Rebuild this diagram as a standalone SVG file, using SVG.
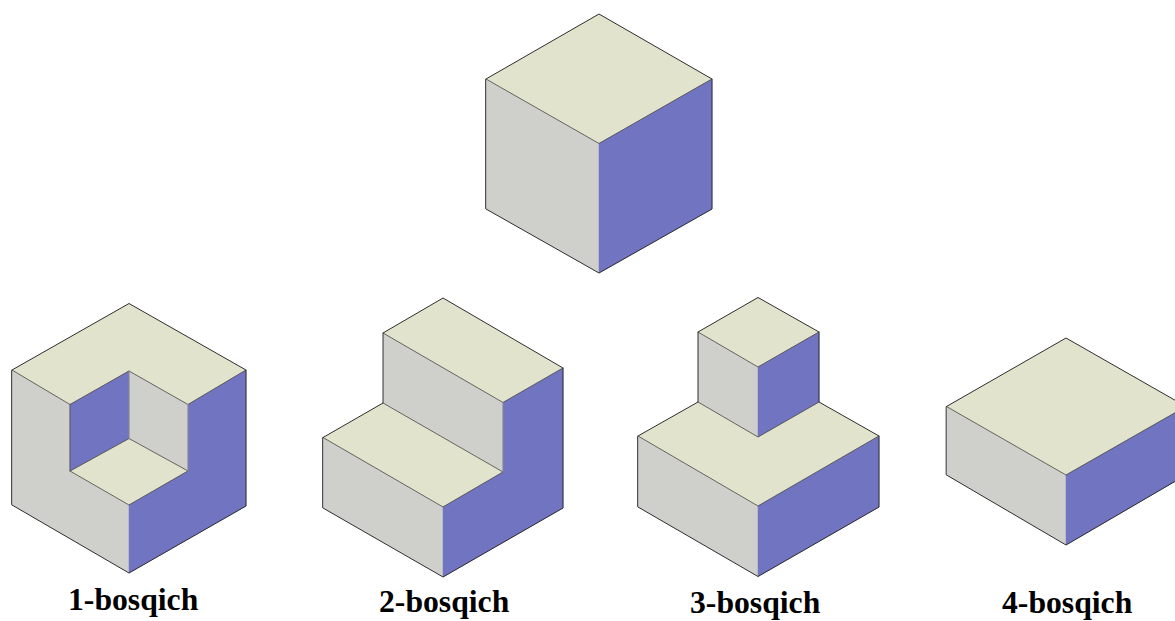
<svg xmlns="http://www.w3.org/2000/svg" width="1175" height="621" viewBox="0 0 1175 621">
<style>
.t{fill:#e2e3cd}.l{fill:#cfd0cb}.r{fill:#7174c1;stroke:#7174c1;stroke-width:.5}
.o{fill:none;stroke:#2e2e2e;stroke-width:1;stroke-linejoin:round;stroke-linecap:round}
.i{fill:none;stroke:#55554f;stroke-width:.9;stroke-linecap:round;stroke-linejoin:round}
.f{fill:none;stroke:#8a8a88;stroke-width:.9;stroke-linecap:round}
text{font-family:"Liberation Serif","Times New Roman",serif;font-weight:bold;font-size:31.7px;fill:#000}
</style>
<rect width="1175" height="621" fill="#fff"/>
<g id="cube">
<polygon class="t" points="599,14 712,79 599,143.5 486,79"/>
<polygon class="l" points="486,79 599,143.5 599,273 486,209"/>
<polygon class="r" points="712,79 712,209 599,273 599,143.5"/>
<path class="i" d="M486,79L599,143.5L712,79"/>
<path class="o" d="M486,79L599,14L712,79V209L599,273L486,209Z"/>
</g>
<g id="step1">
<polygon class="t" points="129,303.5 246,370 188,404.5 129,371 70,404.5 12,370"/>
<polygon class="l" points="12,370 70,404.5 70,471 129,505 129,573 12,505"/>
<polygon class="l" points="129,371 188,404.5 188,471 129,438.5"/>
<polygon class="t" points="129,438.5 188,471 129,505 70,471"/>
<polygon class="r" points="246,370 246,506 129,573 129,505 188,471 188,404.5"/>
<polygon class="r" points="70,404.5 129,371 129,438.5 70,471"/>
<path class="i" d="M12,370L70,404.5L129,371L188,404.5L246,370M70,404.5V471L129,505L188,471L129,438.5L70,471"/>
<path class="f" d="M129,371V438.5M188,404.5V471"/>
<path class="o" d="M12,370L129,303.5L246,370V506L129,573L12,505Z"/>
<text x="68" y="610">1-bosqich</text>
</g>
<g id="step2">
<polygon class="t" points="443,298 563,368 503,402.5 383,333"/>
<polygon class="l" points="383,333 503,402.5 503,472 383,403"/>
<polygon class="t" points="383,403 503,472 443,507 323,437.5"/>
<polygon class="l" points="323,437.5 443,507 443,577 323,508"/>
<polygon class="r" points="563,368 563,508 443,577 443,507 503,472 503,402.5"/>
<path class="i" d="M383,333L503,402.5L563,368M383,403L503,472L443,507L323,437.5"/>
<path class="f" d="M503,402.5V472"/>
<path class="o" d="M323,437.5L383,403V333L443,298L563,368V508L443,577L323,508Z"/>
<text x="379" y="612">2-bosqich</text>
</g>
<g id="step3">
<polygon class="t" points="698,402 758,437 819,402 879,436 758,506 638,436"/>
<polygon class="l" points="638,436 758,506 758,576.5 638,507"/>
<polygon class="r" points="879,436 879,507 758,576.5 758,506"/>
<polygon class="t" points="758,297.5 819,332 758,367 698,332"/>
<polygon class="l" points="698,332 758,367 758,437 698,402"/>
<polygon class="r" points="819,332 819,402 758,437 758,367"/>
<path class="i" d="M638,436L758,506L879,436M698,332L758,367L819,332M698,402L758,437L819,402"/>
<path class="o" d="M638,436L698,402V332L758,297.5L819,332V402L879,436V507L758,576.5L638,507Z"/>
<text x="690" y="613">3-bosqich</text>
</g>
<g id="step4">
<polygon class="t" points="1066,338 1186,406.5 1066,475 946.5,406.5"/>
<polygon class="l" points="946.5,406.5 1066,475 1066,545 946.5,475"/>
<polygon class="r" points="1186,406.5 1186,475 1066,545 1066,475"/>
<path class="i" d="M946.5,406.5L1066,475L1186,406.5"/>
<path class="o" d="M946.5,406.5L1066,338L1186,406.5V475L1066,545L946.5,475Z"/>
<text x="1002" y="613">4-bosqich</text>
</g>
</svg>
